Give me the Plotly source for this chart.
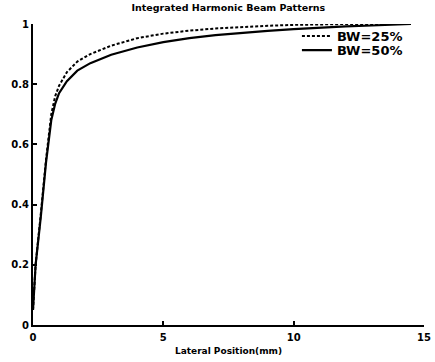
import plotly.graph_objects as go

x_pos = [0, 0.1, 0.3, 0.5, 0.7, 0.85, 1.0, 1.3, 1.7, 2.2, 3.0, 4.0, 5.0, 6.0, 7.0, 8.0, 9.0, 10.0, 11.0, 12.0, 13.0, 14.0, 14.5]
bw25 = [0.05, 0.2, 0.37, 0.55, 0.70, 0.76, 0.795, 0.84, 0.875, 0.90, 0.928, 0.953, 0.968, 0.978, 0.985, 0.99, 0.994, 0.997, 0.999, 1.0, 1.0, 1.0, 1.0]
bw50 = [0.05, 0.2, 0.36, 0.54, 0.68, 0.735, 0.77, 0.81, 0.845, 0.87, 0.898, 0.922, 0.940, 0.953, 0.963, 0.971, 0.977, 0.983, 0.988, 0.992, 0.995, 0.998, 1.0]
names = ["BW=25%", "BW=50%"]

x_ticks = [0, 5, 10, 15]
y_ticks = [0, 0.2, 0.4, 0.6, 0.8, 1]
y_ticklabels = ["0", "0.2", "0.4", "0.6", "0.8", "1"]

FONT = "DejaVu Sans"

fig = go.Figure()
fig.add_trace(go.Scatter(x=x_pos, y=bw25, mode="lines", name=names[0],
                         line=dict(color="black", width=2, dash="3px,2px"),
                         legend="legend"))
fig.add_trace(go.Scatter(x=x_pos, y=bw50, mode="lines", name=names[1],
                         line=dict(color="black", width=2.2),
                         legend="legend2"))

legend_common = dict(font=dict(family=FONT, size=13, color="black", weight="bold"),
                     bgcolor="rgba(0,0,0,0)", borderwidth=0,
                     xanchor="left", yanchor="middle", itemwidth=30,
                     tracegroupgap=0)

fig.update_layout(
    width=435, height=362,
    margin=dict(l=33, r=11, t=24, b=37, autoexpand=False),
    paper_bgcolor="white", plot_bgcolor="white",
    showlegend=True,
    title=dict(text="Integrated Harmonic Beam Patterns", x=0.525, xanchor="center",
               y=0.978, yanchor="middle",
               font=dict(family=FONT, size=9.5, color="black", weight="bold")),
    legend=dict(x=0.675, y=0.96, **legend_common),
    legend2=dict(x=0.675, y=0.913, **legend_common),
    xaxis=dict(range=[0, 15], tickvals=x_ticks, showgrid=False, zeroline=False,
               showline=True, linecolor="black", linewidth=2, automargin=False,
               ticks="inside", ticklen=4, tickwidth=1.5, tickcolor="black",
               ticklabelstandoff=2,
               tickfont=dict(family=FONT, size=10, color="black", weight="bold"),
               title=dict(text="Lateral Position(mm)", standoff=6,
                          font=dict(family=FONT, size=9, color="black", weight="bold"))),
    yaxis=dict(range=[0, 1], tickvals=y_ticks, ticktext=y_ticklabels, showgrid=False,
               zeroline=False, showline=True, linecolor="black", linewidth=2, automargin=False,
               ticks="inside", ticklen=4, tickwidth=1.5, tickcolor="black",
               tickfont=dict(family=FONT, size=10, color="black", weight="bold")),
)

fig.write_html("out.html")
